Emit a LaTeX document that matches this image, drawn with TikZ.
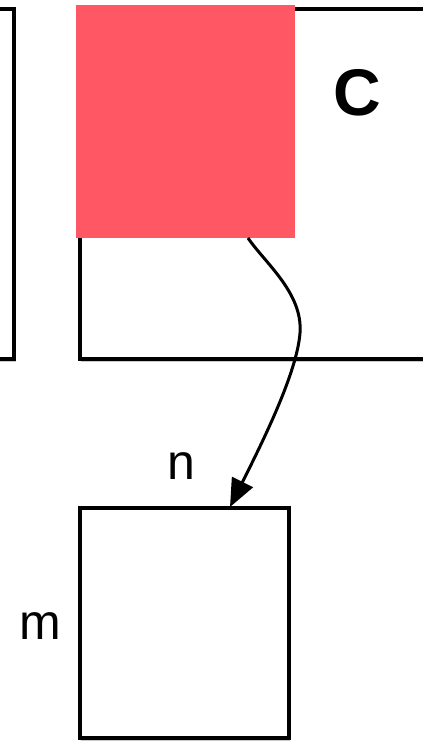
\documentclass[tikz,border=0pt]{standalone}
\usepackage{fontspec}
\setmainfont{Liberation Sans}
\usetikzlibrary{arrows.meta,shadows}
\definecolor{boxred}{RGB}{255,88,100}
\begin{document}
\begin{tikzpicture}[x=1pt,y=1pt,
  box/.style={draw=black,line width=3.6pt,fill=white,inner sep=0pt,
    drop shadow={shadow xshift=1.5pt,shadow yshift=-3pt,opacity=0.3,fill=black!70}},
  lbl/.style={font=\fontsize{50}{58}\selectfont,inner sep=0pt},
  conn/.style={line width=3pt,-{Triangle[length=28pt,width=23pt]}}]
\useasboundingbox (0,0) rectangle (423,748);
\begin{scope}
\clip (0,0) rectangle (423,748);
\node[box,minimum width=40pt,minimum height=350pt,anchor=north east] (left) at (16,741) {};
\node[box,minimum width=370pt,minimum height=350pt,anchor=north west] (main) at (78,741) {};
\fill[boxred] (76,510) rectangle (295,743);
\node[lbl,font=\fontsize{66}{70}\selectfont\bfseries] (c) at (357,655) {C};
\node[box,minimum width=209pt,minimum height=230pt,anchor=south west] (bot) at (78,8) {};
\node[lbl] (n) at (181,282) {n};
\node[lbl] (m) at (40,122) {m};
\coordinate (src) at (248,510);
\coordinate (tip) at (230,241);
\draw[conn] (src) .. controls (265,485) and (303,455) .. (300,415)
  .. controls (297,375) and (262,305) .. (tip);
\end{scope}
\end{tikzpicture}
\end{document}
